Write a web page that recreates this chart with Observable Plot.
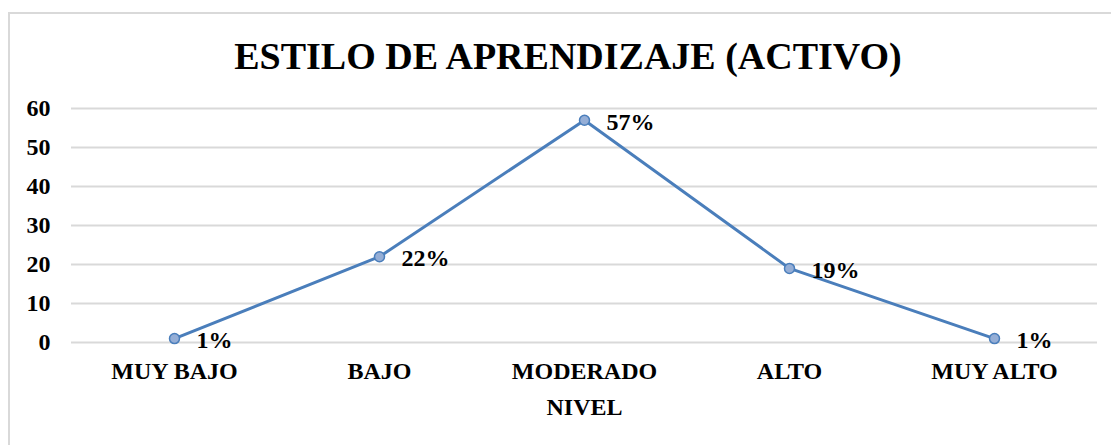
<!DOCTYPE html>
<html>
<head>
<meta charset="utf-8">
<script src="https://cdn.jsdelivr.net/npm/d3@7"></script>
<script src="https://cdn.jsdelivr.net/npm/@observablehq/plot@0.6"></script>
<style>
  html, body { margin: 0; padding: 0; background: #fff; }
  body { width: 1111px; height: 445px; position: relative; overflow: hidden;
         font-family: "Liberation Serif", "Times New Roman", serif; }
  #frame { position: absolute; left: 8px; top: 12px; width: 1200px; height: 500px;
           border-top: 2px solid #d9d9d9; border-left: 2px solid #d9d9d9; box-sizing: border-box; }
  #title { position: absolute; left: 0; top: 37px; width: 1136px; text-align: center;
           font-size: 38px; line-height: 38px; font-weight: bold; color: #000; }
  #chart { position: absolute; left: 0; top: 90px; }
</style>
</head>
<body>
<div id="frame"></div>
<div id="title">ESTILO DE APRENDIZAJE (ACTIVO)</div>
<div id="chart"></div>
<script>
const categories = ["MUY BAJO", "BAJO", "MODERADO", "ALTO", "MUY ALTO"];
const values = [1, 22, 57, 19, 1];
const yTicks = [0, 10, 20, 30, 40, 50, 60];
const xTitle = "NIVEL";

const data = categories.map((c, i) => ({ nivel: c, valor: values[i] }));

const chart = Plot.plot({
  width: 1111,
  height: 355,
  marginTop: 18,
  marginBottom: 103,
  marginLeft: 71,
  marginRight: 14,
  style: { fontFamily: '"Liberation Serif", "Times New Roman", serif', fontWeight: "bold", fontSize: "24px", color: "#000", background: "transparent" },
  x: { type: "point", domain: categories, padding: 0.5, label: null },
  y: { domain: [0, 60], ticks: yTicks, label: null },
  marks: [
    Plot.gridY(yTicks, { stroke: "#d9d9d9", strokeOpacity: 1, strokeWidth: 2 }),
    Plot.axisY(yTicks, { tickSize: 0, tickPadding: 21, fontSize: 24, fontWeight: "bold", label: null }),
    Plot.axisX({ tickSize: 0, tickPadding: 19, fontSize: 24, fontWeight: "bold", label: null }),
    Plot.axisX({ ticks: [], label: xTitle, labelAnchor: "center", labelOffset: 72, fontSize: 24, fontWeight: "bold" }),
    Plot.line(data, { x: "nivel", y: "valor", stroke: "#4a7ebb", strokeWidth: 3 }),
    Plot.dot(data, { x: "nivel", y: "valor", r: 5, fill: "#95aed6", stroke: "#4a7ebb", strokeWidth: 1.5 }),
    Plot.text(data, { x: "nivel", y: "valor", text: d => d.valor + "%", dx: 22, dy: 2, textAnchor: "start", fontSize: 24, fontWeight: "bold", fill: "#000" })
  ]
});
document.getElementById("chart").appendChild(chart);
</script>
</body>
</html>
